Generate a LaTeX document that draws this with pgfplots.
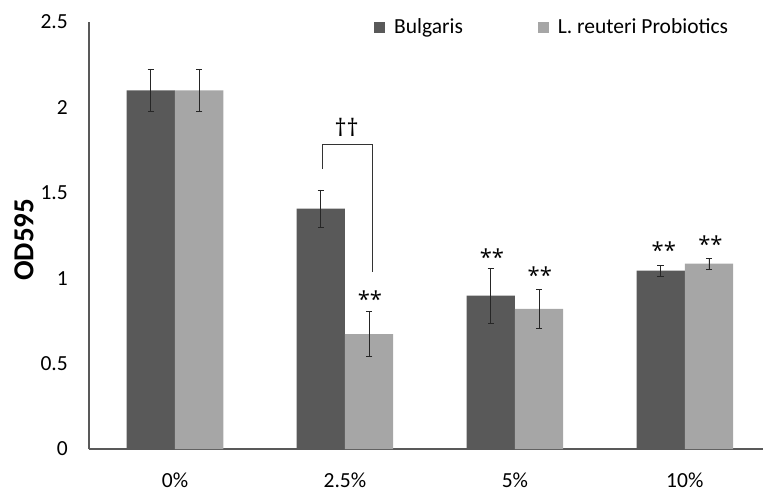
\documentclass[border=0pt]{standalone}
\usepackage{fontspec}
\setmainfont{Carlito}
\newfontfamily\starfont{Open Sans}
\usepackage{pgfplots}
\pgfplotsset{compat=1.18}
\definecolor{darkbar}{HTML}{595959}
\definecolor{lightbar}{HTML}{A6A6A6}
\definecolor{axisgray}{HTML}{595959}
\begin{document}
\fontsize{21.5bp}{25bp}\selectfont
\begin{tikzpicture}
\path[use as bounding box] (-89bp,-43bp) rectangle (676bp,449bp);
\begin{axis}[
  at={(0,0)}, anchor=south west,
  scale only axis, width=674bp, height=427bp,
  ybar=0pt, bar width=48.3bp,
  xmin=-0.506, xmax=3.46, ymin=0, ymax=2.5,
  xtick={0,1,2,3}, xticklabels={0\%,2.5\%,5\%,10\%},
  ytick={0,0.5,1,1.5,2,2.5},
  axis x line*=bottom, axis y line*=left,
  axis line style={axisgray, line width=1.3bp},
  major tick length=0pt,
  /pgf/number format/assume math mode=true,
  tick label style={font=\fontsize{21.5bp}{25bp}\selectfont, black},
  yticklabel style={inner sep=0pt, xshift=-21bp},
  xticklabel style={inner sep=0pt, yshift=-24bp},
  ylabel={OD595},
  every axis y label/.style={at={(axis description cs:0,0.49)}, xshift=-65bp, rotate=90, anchor=center, font=\fontsize{29bp}{32bp}\selectfont\bfseries},
  legend style={draw=none, fill=none, inner sep=0pt, at={(axis description cs:0.4228,0.987)}, anchor=west, font=\fontsize{21.5bp}{25bp}\selectfont, /tikz/every even column/.append style={column sep=73bp}},
  legend columns=2,
  legend image code/.code={\fill[#1] (0bp,-5.5bp) rectangle (11bp,5.5bp); \path (18bp,0bp);},
  error bars/y dir=both, error bars/y explicit,
  error bars/error bar style={line width=0.7bp, black!85},
  error bars/error mark options={rotate=90, mark size=3.2bp, line width=0.7bp, black!85},
]
\addplot[fill=darkbar, draw=none] coordinates {
  (0,2.10) +- (0,0.125)
  (1,1.407) +- (0,0.11)
  (2,0.898) +- (0,0.16)
  (3,1.044) +- (0,0.032)
};
\addlegendentry{Bulgaris}
\addplot[fill=lightbar, draw=none] coordinates {
  (0,2.10) +- (0,0.125)
  (1,0.673) +- (0,0.13)
  (2,0.820) +- (0,0.115)
  (3,1.085) +- (0,0.032)
};
\addlegendentry{L. reuteri Probiotics}
\draw[line width=1.3bp, black!80] (axis cs:0.869,1.638) -- (axis cs:0.869,1.784) -- (axis cs:1.162,1.784) -- (axis cs:1.162,1.038);
\node[font=\starfont\fontsize{24bp}{28bp}\selectfont, yshift=-2bp] at (axis cs:1.01,1.897) {††};
\node[font=\starfont\fontsize{22bp}{26bp}\selectfont, yshift=-4bp] at (axis cs:1.147,0.902) {**};
\node[font=\starfont\fontsize{22bp}{26bp}\selectfont, yshift=-4bp] at (axis cs:1.865,1.149) {**};
\node[font=\starfont\fontsize{22bp}{26bp}\selectfont, yshift=-4bp] at (axis cs:2.147,1.042) {**};
\node[font=\starfont\fontsize{22bp}{26bp}\selectfont, yshift=-4bp] at (axis cs:2.876,1.188) {**};
\node[font=\starfont\fontsize{22bp}{26bp}\selectfont, yshift=-4bp] at (axis cs:3.151,1.224) {**};
\end{axis}
\end{tikzpicture}
\end{document}
